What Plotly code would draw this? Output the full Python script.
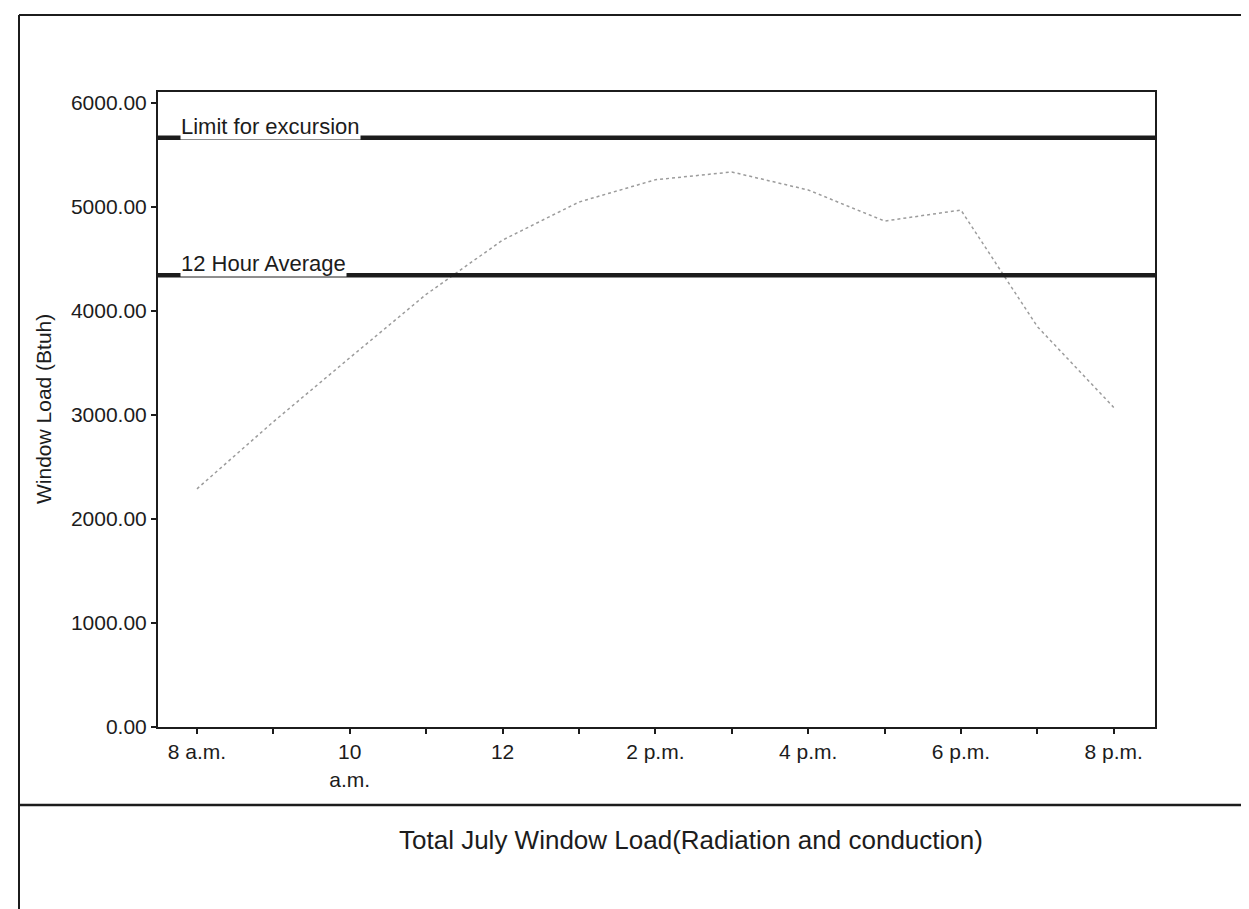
import plotly.graph_objects as go

# ---- data ----
hours = [8, 9, 10, 11, 12, 13, 14, 15, 16, 17, 18, 19, 20]
window_load = [2290, 2935, 3550, 4160, 4682, 5048, 5262, 5337, 5164, 4865, 4971, 3850, 3073]
limit_value = 5665
average_value = 4345
limit_label = "Limit for excursion"
average_label = "12 Hour Average"
tick_hours = [8, 9, 10, 11, 12, 13, 14, 15, 16, 17, 18, 19, 20]
tick_labels = ["8 a.m.", "", "10<br>a.m.", "", "12", "", "2 p.m.", "", "4 p.m.", "", "6 p.m.", "", "8 p.m."]
y_ticks = [0, 1000, 2000, 3000, 4000, 5000, 6000]
y_title = "Window Load (Btuh)"
chart_title = "Total July Window Load(Radiation and conduction)"

FONT = "Arial, Liberation Sans, sans-serif"
INK = "#1c1c1c"

fig = go.Figure()
fig.add_trace(go.Scatter(
    x=hours, y=window_load, mode="lines",
    line=dict(color="#9c9c9c", width=1.5, dash="dot"),
    showlegend=False, hoverinfo="skip"))

# reference lines
for val in (limit_value, average_value):
    fig.add_shape(type="line", xref="paper", x0=0, x1=1, yref="y", y0=val, y1=val,
                  line=dict(color=INK, width=4.5), layer="above")

for val, txt in ((limit_value, limit_label), (average_value, average_label)):
    fig.add_annotation(x=0.022, xref="paper", y=val, yref="y", text=txt,
                       xanchor="left", yanchor="bottom", yshift=-2, showarrow=False,
                       bgcolor="white", borderpad=0,
                       font=dict(family=FONT, size=22, color=INK))

# outer frame (paper coords relative to plot area: x 150..1147 px, y 84..719 px)
def px_x(p):
    return (p - 150) / 997.0

def px_y(p):
    return (719 - p) / 635.0

frame = dict(color=INK, width=2)
fig.add_shape(type="line", xref="paper", yref="paper", x0=px_x(11), x1=px_x(1247), y0=px_y(7), y1=px_y(7), line=frame)
fig.add_shape(type="line", xref="paper", yref="paper", x0=px_x(11), x1=px_x(11), y0=px_y(7), y1=px_y(907), line=frame)
fig.add_shape(type="line", xref="paper", yref="paper", x0=px_x(1247), x1=px_x(1247), y0=px_y(7), y1=px_y(907), line=frame)
fig.add_shape(type="line", xref="paper", yref="paper", x0=px_x(11), x1=px_x(1247), y0=px_y(797), y1=px_y(797),
              line=dict(color=INK, width=2.5))
fig.add_shape(type="line", xref="paper", yref="paper", x0=px_x(11), x1=px_x(330), y0=px_y(906), y1=px_y(906),
              line=dict(color="#b8b8b8", width=2))

fig.add_annotation(x=px_x(683), y=px_y(832), xref="paper", yref="paper", text=chart_title,
                   showarrow=False, xanchor="center", yanchor="middle",
                   font=dict(family=FONT, size=26, color=INK))
fig.add_annotation(x=px_x(35), y=px_y(401), xref="paper", yref="paper", text=y_title,
                   textangle=-90, showarrow=False, xanchor="center", yanchor="middle",
                   font=dict(family=FONT, size=21, color=INK))

fig.update_layout(
    width=1249, height=909,
    margin=dict(l=150, r=102, t=84, b=190),
    paper_bgcolor="white", plot_bgcolor="white",
    font=dict(family=FONT, size=21, color=INK),
    showlegend=False,
)
fig.update_xaxes(
    range=[7.49, 20.54], tickvals=tick_hours, ticktext=tick_labels,
    ticks="outside", ticklen=5, tickwidth=2, tickcolor=INK,
    showline=True, linecolor=INK, linewidth=2, mirror=True,
    showgrid=False, zeroline=False,
    tickfont=dict(family=FONT, size=21, color=INK),
)
fig.update_yaxes(
    range=[0, 6106], tickvals=y_ticks, tickformat=".2f",
    ticks="outside", ticklen=5, tickwidth=2, tickcolor=INK,
    showline=True, linecolor=INK, linewidth=2, mirror=True,
    showgrid=False, zeroline=False,
    tickfont=dict(family=FONT, size=21, color=INK),
)

fig.write_html("out.html")
